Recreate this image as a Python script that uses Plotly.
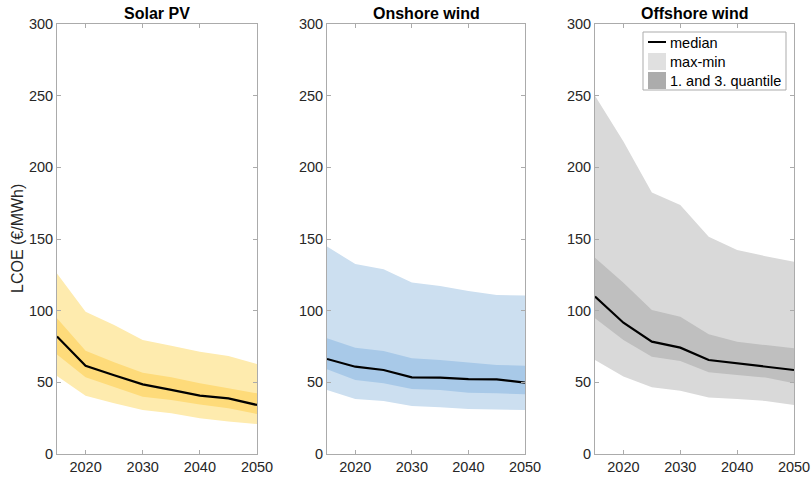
import plotly.graph_objects as go

# Levelised cost of electricity projections (EUR/MWh)
years = [2015, 2020, 2025, 2030, 2035, 2040, 2045, 2050]

solar_max = [126, 99.3, 90, 79.5, 75.6, 71.4, 68.4, 62.8]
solar_q3 = [94.7, 72, 64, 56.7, 53.5, 49.3, 45.8, 42.3]
solar_med = [82, 61.6, 55, 48.6, 44.7, 40.7, 38.8, 34.2]
solar_q1 = [69.5, 53.5, 47, 40, 37.7, 34.6, 31.9, 27.9]
solar_min = [54.4, 40.7, 35.4, 30.7, 28.4, 24.9, 22.6, 20.9]

onshore_max = [144.7, 132.6, 128.9, 119.6, 117.2, 113.7, 111, 110.5]
onshore_q3 = [80.7, 74.2, 71.9, 66.8, 65.6, 63.7, 62.1, 61.6]
onshore_med = [66.3, 60.9, 58.6, 53.5, 53.3, 52.3, 52.1, 49.8]
onshore_q1 = [59.1, 51.6, 49.3, 45.4, 44.7, 42.8, 42.3, 41.6]
onshore_min = [44.7, 38.4, 37, 33.5, 32.6, 31.4, 31.2, 30.7]

offshore_max = [250, 218, 182.4, 173.7, 151.6, 142.3, 138, 134.2]
offshore_q3 = [137, 119.5, 100.5, 95.8, 83.5, 78.4, 76, 73.7]
offshore_med = [109.8, 91.6, 78.4, 74.2, 65.6, 63.3, 61, 58.6]
offshore_q1 = [94.7, 79.5, 67.9, 64.9, 57, 55.1, 53.3, 49.3]
offshore_min = [65.6, 54, 46.5, 44.2, 39.5, 38.4, 37, 34.2]

titles = ["Solar PV", "Onshore wind", "Offshore wind"]
y_ticks = [0, 50, 100, 150, 200, 250, 300]
x_ticks = [2020, 2030, 2040, 2050]

panels = [
    (solar_min, solar_q1, solar_med, solar_q3, solar_max, "#FEEBAE", "#FEDB7A"),
    (onshore_min, onshore_q1, onshore_med, onshore_q3, onshore_max, "#CCDFF0", "#A8C9E8"),
    (offshore_min, offshore_q1, offshore_med, offshore_q3, offshore_max, "#D9D9D9", "#BFBFBF"),
]

x_domains = [(57 / 812, 257 / 812), (327 / 812, 525 / 812), (595 / 812, 794 / 812)]
y_domain = (1 - 454 / 480, 1 - 24 / 480)

FONT = "Liberation Sans, Arial, sans-serif"
TEXT = "#262626"
AXIS = "#ABABAB"

fig = go.Figure()

for i, (lo, q1, med, q3, hi, light, dark) in enumerate(panels):
    xa = "x" if i == 0 else f"x{i + 1}"
    ya = "y" if i == 0 else f"y{i + 1}"
    # outer band: min to max
    fig.add_trace(go.Scatter(x=years + years[::-1], y=hi + lo[::-1], fill="toself",
                             fillcolor=light, line=dict(width=0), mode="lines",
                             showlegend=False, hoverinfo="skip", xaxis=xa, yaxis=ya))
    # inner band: first to third quartile
    fig.add_trace(go.Scatter(x=years + years[::-1], y=q3 + q1[::-1], fill="toself",
                             fillcolor=dark, line=dict(width=0), mode="lines",
                             showlegend=False, hoverinfo="skip", xaxis=xa, yaxis=ya))
    # median
    fig.add_trace(go.Scatter(x=years, y=med, mode="lines",
                             line=dict(color="black", width=2.2),
                             showlegend=False, xaxis=xa, yaxis=ya))

    common = dict(showgrid=False, zeroline=False, showline=True, linecolor=AXIS,
                  linewidth=1, mirror="allticks", ticks="inside", ticklen=4,
                  tickcolor=AXIS, automargin=False,
                  tickfont=dict(family=FONT, size=14.5, color=TEXT))
    fig.update_layout(**{
        ("xaxis" if i == 0 else f"xaxis{i + 1}"): dict(
            domain=list(x_domains[i]), range=[2015, 2050], tickvals=x_ticks,
            anchor=ya, **common),
        ("yaxis" if i == 0 else f"yaxis{i + 1}"): dict(
            domain=list(y_domain), range=[0, 300], tickvals=y_ticks,
            anchor=xa, **common),
    })
    fig.add_annotation(text=f"<b>{titles[i]}</b>", xref="paper", yref="paper",
                       x=(x_domains[i][0] + x_domains[i][1]) / 2, y=y_domain[1],
                       yanchor="bottom", xanchor="center", yshift=0, showarrow=False,
                       font=dict(family=FONT, size=16, color="black"))

fig.add_annotation(text="LCOE (€/MWh)", xref="paper", yref="paper",
                   x=17 / 812, y=(y_domain[0] + y_domain[1]) / 2, textangle=-90,
                   showarrow=False, xanchor="center", yanchor="middle",
                   font=dict(family=FONT, size=16, color=TEXT))

# Legend box in the offshore panel (pixel positions converted to paper units)
def px(xp):
    return xp / 812


def py(yp):
    return 1 - yp / 480


fig.add_shape(type="rect", xref="paper", yref="paper", x0=px(643), x1=px(786),
              y0=py(90), y1=py(32), line=dict(color=AXIS, width=1), fillcolor="white")
fig.add_shape(type="line", xref="paper", yref="paper", x0=px(648), x1=px(666),
              y0=py(42), y1=py(42), line=dict(color="black", width=2))
fig.add_shape(type="rect", xref="paper", yref="paper", x0=px(648), x1=px(666),
              y0=py(70), y1=py(53), line=dict(width=0), fillcolor="#E0E0E0")
fig.add_shape(type="rect", xref="paper", yref="paper", x0=px(648), x1=px(666),
              y0=py(89), y1=py(72), line=dict(width=0), fillcolor="#ACACAC")
for label, yp in [("median", 43), ("max-min", 62), ("1. and 3. quantile", 81)]:
    fig.add_annotation(text=label, xref="paper", yref="paper", x=px(668), y=py(yp),
                       xanchor="left", yanchor="middle", showarrow=False,
                       font=dict(family=FONT, size=14.5, color="black"))

fig.update_layout(width=812, height=480, margin=dict(l=0, r=0, t=0, b=0),
                  paper_bgcolor="white", plot_bgcolor="white", showlegend=False)

fig.write_html("out.html")
